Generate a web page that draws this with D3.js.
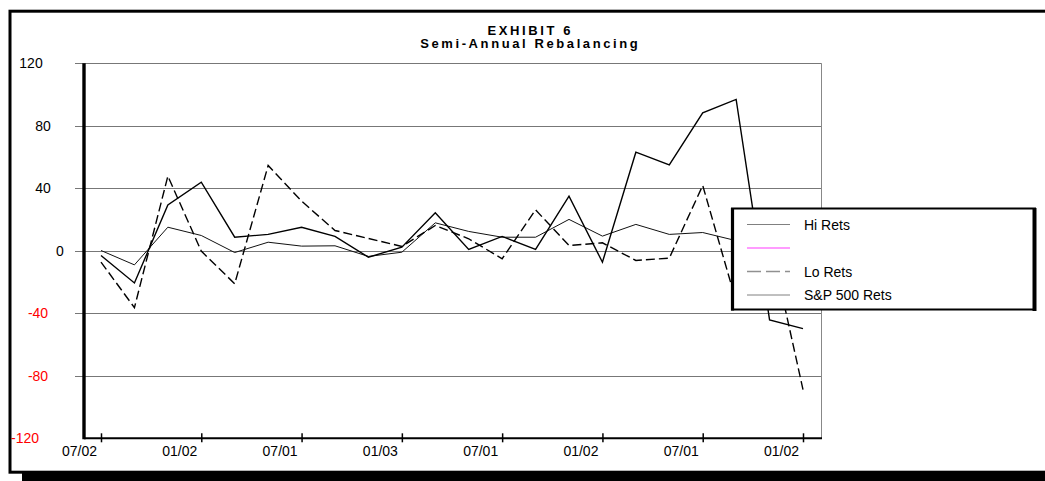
<!DOCTYPE html>
<html>
<head>
<meta charset="utf-8">
<script src="https://cdn.jsdelivr.net/npm/d3@7/dist/d3.min.js"></script>
<style>
  html, body { margin: 0; padding: 0; background: #fff; }
  svg { display: block; font-family: Arial, "Liberation Sans", sans-serif; }
</style>
</head>
<body>
<svg id="chart" width="1045" height="481"></svg>
<script>
// Half-year period labels shown under every third period
const tickLabels = ["07/02", "01/02", "07/01", "01/03", "07/01", "01/02", "07/01", "01/02"];
const yTicks = [120, 80, 40, 0, -40, -80, -120];

// Semi-annual returns per period (%)
const hiRets = [-3.0, -20.6, 29.4, 43.9, 8.7, 10.5, 15.1, 9.2, -4.1, 2.3, 24.3,
                0.9, 9.2, 0.9, 35.0, -7.3, 63.1, 55.0, 88.3, 96.9, -44.2, -49.8];
const loRets = [-7.2, -36.4, 47.8, -0.2, -21.1, 54.6, 31.8, 13.0, 7.9, 2.8, 16.2,
                7.7, -5.1, 26.2, 3.4, 5.1, -6.2, -4.7, 41.8, -32.5, 8.0, -88.8];
const spRets = [0.2, -9.0, 15.1, 9.8, -1.1, 5.5, 3.0, 3.2, -3.6, -0.9, 17.9,
                12.4, 8.7, 8.7, 20.1, 9.4, 16.9, 10.5, 11.7, 6.5, 0.0, -8.0];
const blankSeries = [];

const legendNames = ["Hi Rets", "", "Lo Rets", "S&P 500 Rets"];

const svg = d3.select("#chart");

// Plot geometry
const plot = { left: 84, right: 821.5, top: 63.3, bottom: 438.3 };
const tickEvery = 3;

const x = d3.scaleLinear().domain([0, hiRets.length - 1]).range([101, 803]);
const y = d3.scaleLinear().domain([-120, 120]).range([plot.bottom, plot.top]);

// Outer frame with drop shadow
svg.append("rect")
  .attr("x", 22).attr("y", 473).attr("width", 1040).attr("height", 10)
  .attr("fill", "#000");
svg.append("rect")
  .attr("x", 10).attr("y", 11.2).attr("width", 1060).attr("height", 461)
  .attr("fill", "none").attr("stroke", "#000").attr("stroke-width", 3);

// Title
const titleSpacing = 2.6;
svg.append("text")
  .attr("x", 529 + titleSpacing / 2).attr("y", 35)
  .attr("text-anchor", "middle")
  .attr("font-size", 13).attr("font-weight", "bold")
  .attr("letter-spacing", titleSpacing)
  .text("EXHIBIT 6");
svg.append("text")
  .attr("x", 529 + titleSpacing / 2).attr("y", 48)
  .attr("text-anchor", "middle")
  .attr("font-size", 13).attr("font-weight", "bold")
  .attr("letter-spacing", titleSpacing)
  .text("Semi-Annual Rebalancing");

// Horizontal gridlines (extend slightly left of the value axis)
svg.append("g")
  .selectAll("line")
  .data(yTicks.filter(d => d > -120))
  .join("line")
  .attr("x1", 75).attr("x2", plot.right)
  .attr("y1", d => Math.round(y(d)) + 0.5)
  .attr("y2", d => Math.round(y(d)) + 0.5)
  .attr("stroke", "#777").attr("stroke-width", 1);

// Right edge of the plot area
svg.append("line")
  .attr("x1", plot.right).attr("x2", plot.right)
  .attr("y1", plot.top).attr("y2", plot.bottom)
  .attr("stroke", "#888").attr("stroke-width", 1);

// Value axis labels
const yLabelX = { "120": 31, "80": 43, "40": 43, "0": 60, "-40": 38, "-80": 38, "-120": 25 };
svg.append("g")
  .selectAll("text")
  .data(yTicks)
  .join("text")
  .attr("x", d => yLabelX[String(d)])
  .attr("y", d => y(d) + 5)
  .attr("text-anchor", "middle")
  .attr("font-size", 14)
  .attr("fill", d => d < 0 ? "#ff0000" : "#000")
  .text(d => d);

// Category axis
const xAxis = d3.axisBottom(x)
  .tickValues(d3.range(0, hiRets.length, tickEvery))
  .tickFormat((d, i) => tickLabels[i])
  .tickSizeOuter(0)
  .tickSizeInner(4);

const gx = svg.append("g")
  .attr("transform", `translate(0,${plot.bottom})`)
  .call(xAxis);
gx.select(".domain").remove();
gx.selectAll(".tick line")
  .attr("y1", -5).attr("y2", 4)
  .attr("stroke", "#000").attr("stroke-width", 1.5);
gx.selectAll(".tick text")
  .attr("x", -22).attr("y", 8)
  .attr("font-size", 14)
  .attr("font-family", "Arial, 'Liberation Sans', sans-serif")
  .attr("fill", "#000");

svg.append("line")
  .attr("x1", plot.left).attr("x2", plot.right + 0.5)
  .attr("y1", plot.bottom).attr("y2", plot.bottom)
  .attr("stroke", "#000").attr("stroke-width", 2);

// Value axis line
svg.append("line")
  .attr("x1", plot.left).attr("x2", plot.left)
  .attr("y1", plot.top).attr("y2", plot.bottom + 1)
  .attr("stroke", "#000").attr("stroke-width", 3.4);

// Series lines
const line = d3.line().x((d, i) => x(i)).y(d => y(d));

const series = [
  { values: spRets, color: "#111", width: 1, dash: null },
  { values: blankSeries, color: "#ff99ff", width: 2, dash: null },
  { values: loRets, color: "#000", width: 1.4, dash: "9,4" },
  { values: hiRets, color: "#000", width: 1.4, dash: null }
];

svg.append("g")
  .selectAll("path")
  .data(series.filter(s => s.values.length))
  .join("path")
  .attr("d", s => line(s.values))
  .attr("fill", "none")
  .attr("stroke", s => s.color)
  .attr("stroke-width", s => s.width)
  .attr("stroke-dasharray", s => s.dash)
  .attr("stroke-linejoin", "miter");

// Legend
const legend = svg.append("g");
legend.append("rect")
  .attr("x", 732).attr("y", 208.5).attr("width", 303).attr("height", 101)
  .attr("fill", "#fff").attr("stroke", "#000").attr("stroke-width", 2);
legend.append("line")
  .attr("x1", 732.5).attr("x2", 732.5).attr("y1", 208).attr("y2", 310.5)
  .attr("stroke", "#000").attr("stroke-width", 3.2);
legend.append("line")
  .attr("x1", 1034.5).attr("x2", 1034.5).attr("y1", 208).attr("y2", 311)
  .attr("stroke", "#000").attr("stroke-width", 4);

const legendStyles = [
  { color: "#808080", width: 1, dash: null },
  { color: "#ff9cff", width: 2, dash: null },
  { color: "#909090", width: 1.5, dash: "14,5" },
  { color: "#808080", width: 1, dash: null }
];
const rowY = [224, 247.5, 271, 294.5];

const rows = legend.selectAll("g.row")
  .data(legendNames)
  .join("g")
  .attr("class", "row")
  .attr("transform", (d, i) => `translate(0,${rowY[i]})`);
rows.append("line")
  .attr("x1", 747).attr("x2", 790)
  .attr("y1", 0.5).attr("y2", 0.5)
  .attr("stroke", (d, i) => legendStyles[i].color)
  .attr("stroke-width", (d, i) => legendStyles[i].width)
  .attr("stroke-dasharray", (d, i) => legendStyles[i].dash);
rows.append("text")
  .attr("x", 804).attr("y", 5.5)
  .attr("font-size", 14)
  .attr("fill", "#000")
  .text(d => d);
</script>
</body>
</html>
